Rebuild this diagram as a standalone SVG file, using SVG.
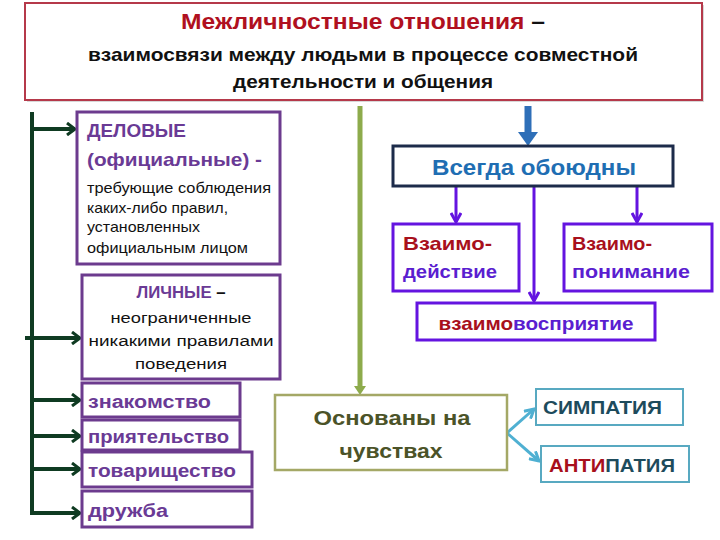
<svg xmlns="http://www.w3.org/2000/svg" width="720" height="540" viewBox="0 0 720 540">
<defs>
<style>
text{font-family:"Liberation Sans","Open Sans",sans-serif}
.b{font-weight:bold}
.pbox{fill:#fff;stroke:#6c3b8e;stroke-width:3}
.vbox{fill:#fff;stroke:#6414e0;stroke-width:3}
.tbox{fill:#fff;stroke:#58a9c1;stroke-width:2}
.pur{fill:#6a3a95}
.vio{fill:#5a1ed0}
.red{fill:#a8101c}
.teal{fill:#1d4b5c}
.dg{stroke:#0f3b22;stroke-width:4;fill:none}
.pl{stroke:#6414e0;stroke-width:3;fill:none}
.cy{stroke:#4fb0d2;stroke-width:3;fill:none}
</style>
<marker id="mdg" markerUnits="userSpaceOnUse" viewBox="0 0 12 14" markerWidth="12" markerHeight="14" refX="10" refY="7" orient="auto">
<path d="M2,1 L10,7 L2,13" fill="none" stroke="#0f3b22" stroke-width="3"/>
</marker>
<marker id="mpl" markerUnits="userSpaceOnUse" viewBox="0 0 14 12" markerWidth="14" markerHeight="12" refX="11" refY="6" orient="auto">
<path d="M2,1 L11,6 L2,11" fill="none" stroke="#6414e0" stroke-width="3"/>
</marker>
<marker id="mcy" markerUnits="userSpaceOnUse" viewBox="0 0 14 12" markerWidth="14" markerHeight="12" refX="11" refY="6" orient="auto">
<path d="M2,1 L11,6 L2,11" fill="none" stroke="#4fb0d2" stroke-width="3"/>
</marker>
</defs>
<rect width="720" height="540" fill="#fff"/>

<g id="connectors">
<path class="dg" d="M32,112 V513 H80" marker-end="url(#mdg)"/>
<path class="dg" d="M32,129 H75" marker-end="url(#mdg)"/>
<path class="dg" d="M25,338 H80" marker-end="url(#mdg)"/>
<path class="dg" d="M32,400 H80" marker-end="url(#mdg)"/>
<path class="dg" d="M32,436 H80" marker-end="url(#mdg)"/>
<path class="dg" d="M32,469 H80" marker-end="url(#mdg)"/>
<line x1="528" y1="106" x2="528" y2="134" stroke="#2e6fb8" stroke-width="7"/>
<polygon points="518,132 538,132 528,146" fill="#2e6fb8"/>
<line x1="360" y1="106" x2="360" y2="388" stroke="#8dab4c" stroke-width="5"/>
<polygon points="354,386 366,386 360,395" fill="#8dab4c"/>
<path class="pl" d="M456,186 V222" marker-end="url(#mpl)"/>
<path class="pl" d="M637,186 V222" marker-end="url(#mpl)"/>
<path class="pl" d="M534,186 V301" marker-end="url(#mpl)"/>
<path class="cy" d="M507,433 L534,409" marker-end="url(#mcy)"/>
<path class="cy" d="M507,433 L539,461" marker-end="url(#mcy)"/>
</g>

<g id="header">
<rect x="27" y="5" width="677" height="97" fill="#d8d8d8"/>
<rect x="25" y="3" width="677" height="97" fill="#fff" stroke="#b5394a" stroke-width="2"/>
<text x="363" y="29" text-anchor="middle" font-size="22" class="b" textLength="364" lengthAdjust="spacingAndGlyphs"><tspan fill="#b01020">Межличностные отношения</tspan><tspan fill="#111"> –</tspan></text>
<text x="363" y="61" text-anchor="middle" font-size="19" class="b" fill="#111" textLength="550" lengthAdjust="spacingAndGlyphs">взаимосвязи между людьми в процессе совместной</text>
<text x="363" y="88" text-anchor="middle" font-size="19" class="b" fill="#111" textLength="260" lengthAdjust="spacingAndGlyphs">деятельности и общения</text>
</g>

<g id="delovye">
<rect class="pbox" x="77" y="112" width="203" height="152"/>
<text x="87" y="137" font-size="19" class="b pur" textLength="99" lengthAdjust="spacingAndGlyphs">ДЕЛОВЫЕ</text>
<text x="87" y="166" font-size="19" class="b pur" textLength="175" lengthAdjust="spacingAndGlyphs">(официальные) -</text>
<text x="87" y="193" font-size="14.5" fill="#111" textLength="184" lengthAdjust="spacingAndGlyphs">требующие соблюдения</text>
<text x="87" y="213" font-size="14.5" fill="#111" textLength="141" lengthAdjust="spacingAndGlyphs">каких-либо правил,</text>
<text x="87" y="232" font-size="14.5" fill="#111" textLength="113" lengthAdjust="spacingAndGlyphs">установленных</text>
<text x="87" y="253" font-size="14.5" fill="#111" textLength="161" lengthAdjust="spacingAndGlyphs">официальным лицом</text>
</g>

<g id="lichnye">
<rect class="pbox" x="82" y="275" width="198" height="104"/>
<text x="181" y="298" text-anchor="middle" font-size="16" class="b" textLength="89" lengthAdjust="spacingAndGlyphs"><tspan class="pur">ЛИЧНЫЕ</tspan><tspan fill="#111"> –</tspan></text>
<text x="181" y="323" text-anchor="middle" font-size="15.5" fill="#111" textLength="141" lengthAdjust="spacingAndGlyphs">неограниченные</text>
<text x="181" y="346" text-anchor="middle" font-size="15.5" fill="#111" textLength="185" lengthAdjust="spacingAndGlyphs">никакими правилами</text>
<text x="181" y="369" text-anchor="middle" font-size="15.5" fill="#111" textLength="92" lengthAdjust="spacingAndGlyphs">поведения</text>
</g>

<g id="znakomstvo">
<rect class="pbox" x="82" y="383" width="158" height="34"/>
<text x="88" y="408" font-size="18" class="b pur" textLength="123" lengthAdjust="spacingAndGlyphs">знакомство</text>
</g>
<g id="priyatelstvo">
<rect class="pbox" x="82" y="420" width="158" height="30"/>
<text x="88" y="443" font-size="18" class="b pur" textLength="141" lengthAdjust="spacingAndGlyphs">приятельство</text>
</g>
<g id="tovarishchestvo">
<rect class="pbox" x="82" y="452" width="170" height="35"/>
<text x="88" y="477" font-size="18" class="b pur" textLength="148" lengthAdjust="spacingAndGlyphs">товарищество</text>
</g>
<g id="druzhba">
<rect class="pbox" x="82" y="491" width="170" height="36"/>
<text x="88" y="517" font-size="18" class="b pur" textLength="80" lengthAdjust="spacingAndGlyphs">дружба</text>
</g>

<g id="vsegda">
<rect x="393" y="146" width="280" height="40" fill="#fff" stroke="#1c2b4a" stroke-width="3"/>
<text x="534" y="175" text-anchor="middle" font-size="22" class="b" fill="#1f6eb3" textLength="204" lengthAdjust="spacingAndGlyphs">Всегда обоюдны</text>
</g>

<g id="vzaimodeystvie">
<rect class="vbox" x="393" y="224" width="126" height="67"/>
<text x="403" y="250" font-size="19" class="b red" textLength="89" lengthAdjust="spacingAndGlyphs">Взаимо-</text>
<text x="403" y="278" font-size="19" class="b vio" textLength="94" lengthAdjust="spacingAndGlyphs">действие</text>
</g>

<g id="vzaimoponimanie">
<rect class="vbox" x="564" y="224" width="148" height="67"/>
<text x="572" y="250" font-size="19" class="b red" textLength="80" lengthAdjust="spacingAndGlyphs">Взаимо-</text>
<text x="572" y="278" font-size="19" class="b vio" textLength="118" lengthAdjust="spacingAndGlyphs">понимание</text>
</g>

<g id="vzaimovospriyatie">
<rect class="vbox" x="417" y="303" width="238" height="37"/>
<text x="536" y="330" text-anchor="middle" font-size="19" class="b" textLength="195" lengthAdjust="spacingAndGlyphs"><tspan class="red">взаимо</tspan><tspan class="vio">восприятие</tspan></text>
</g>

<g id="osnovany">
<rect x="275" y="395" width="232" height="75" fill="#fff" stroke="#a4a866" stroke-width="2.5"/>
<text x="392" y="425" text-anchor="middle" font-size="21" class="b" fill="#4b5328" textLength="157" lengthAdjust="spacingAndGlyphs">Основаны на</text>
<text x="391" y="458" text-anchor="middle" font-size="21" class="b" fill="#4b5328" textLength="103" lengthAdjust="spacingAndGlyphs">чувствах</text>
</g>

<g id="simpatiya">
<rect class="tbox" x="536" y="389" width="147" height="36"/>
<text x="543" y="414" font-size="18" class="b teal" textLength="119" lengthAdjust="spacingAndGlyphs">СИМПАТИЯ</text>
</g>

<g id="antipatiya">
<rect class="tbox" x="541" y="446" width="148" height="36"/>
<text x="549" y="472" font-size="18" class="b" textLength="126" lengthAdjust="spacingAndGlyphs"><tspan class="red">АНТИ</tspan><tspan class="teal">ПАТИЯ</tspan></text>
</g>
</svg>
